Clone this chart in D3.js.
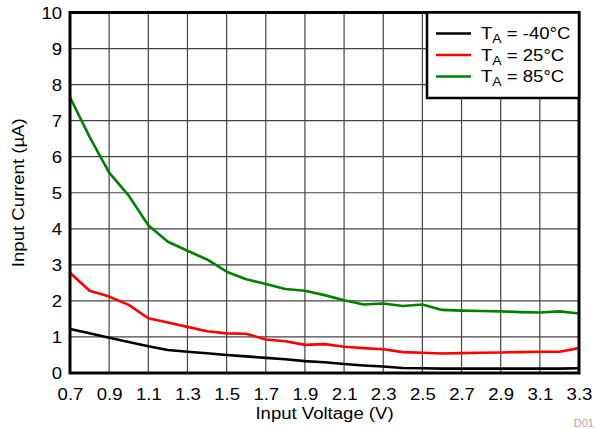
<!DOCTYPE html>
<html>
<head>
<meta charset="utf-8">
<script src="https://cdn.jsdelivr.net/npm/d3@7"></script>
<style>
  html, body { margin: 0; padding: 0; background: #fff; }
  svg { display: block; font-family: "Liberation Sans", Arial, sans-serif; }
</style>
</head>
<body>
<svg id="chart" width="595" height="429"></svg>
<script>
const voltage = [0.7,0.8,0.9,1.0,1.1,1.2,1.3,1.4,1.5,1.6,1.7,1.8,1.9,2.0,2.1,2.2,2.3,2.4,2.5,2.6,2.7,2.8,2.9,3.0,3.1,3.2,3.3];
const currentMinus40 = [1.22,1.10,0.98,0.86,0.74,0.64,0.59,0.55,0.50,0.46,0.42,0.38,0.33,0.30,0.25,0.21,0.18,0.14,0.13,0.12,0.12,0.12,0.12,0.12,0.12,0.12,0.13];
const current25 = [2.78,2.28,2.12,1.89,1.52,1.40,1.28,1.16,1.10,1.09,0.93,0.88,0.78,0.80,0.73,0.69,0.66,0.58,0.56,0.54,0.55,0.56,0.57,0.58,0.59,0.59,0.69];
const current85 = [7.65,6.55,5.56,4.92,4.10,3.64,3.39,3.15,2.81,2.60,2.47,2.33,2.28,2.16,2.02,1.90,1.93,1.86,1.90,1.75,1.73,1.72,1.71,1.69,1.68,1.71,1.65];
const seriesNames = ["-40°C", "25°C", "85°C"];
const seriesColors = ["#000000", "#ff0000", "#008000"];
const xTicks = [0.7,0.9,1.1,1.3,1.5,1.7,1.9,2.1,2.3,2.5,2.7,2.9,3.1,3.3];
const yTicks = [0,1,2,3,4,5,6,7,8,9,10];
const xTitle = "Input Voltage (V)";
const yTitle = "Input Current (µA)";
const noteText = "D01";

const series = [currentMinus40, current25, current85];
const SX = 1.16; // horizontal stretch of the reference's lettering

const svg = d3.select("#chart");
const L = 70, R = 579, T = 12.5, B = 373;
const x = d3.scaleLinear().domain([0.7, 3.3]).range([L, R]);
const y = d3.scaleLinear().domain([0, 10]).range([B, T]);

// grid
const grid = svg.append("g");
grid.selectAll(".vg").data(xTicks.slice(1, -1)).enter().append("line")
  .attr("x1", d => x(d)).attr("x2", d => x(d)).attr("y1", T).attr("y2", B)
  .attr("stroke", "#444").attr("stroke-width", 1.2);
grid.selectAll(".hg").data(yTicks.slice(1, -1)).enter().append("line")
  .attr("x1", L).attr("x2", R).attr("y1", d => y(d)).attr("y2", d => y(d))
  .attr("stroke", "#444").attr("stroke-width", 1.2);

// lines
const line = d3.line().x((d, i) => x(voltage[i])).y(d => y(d));
series.forEach((s, k) => {
  svg.append("path").datum(s).attr("d", line)
    .attr("fill", "none").attr("stroke", seriesColors[k])
    .attr("stroke-width", 2.6).attr("stroke-linejoin", "round");
});

// frame
svg.append("rect").attr("x", L).attr("y", T).attr("width", R - L).attr("height", B - T)
  .attr("fill", "none").attr("stroke", "#000").attr("stroke-width", 3);

// axes
const xAxis = d3.axisBottom(x).tickValues(xTicks).tickSize(0).tickPadding(0).tickFormat(d3.format(".1f"));
const gx = svg.append("g").attr("transform", `translate(0,${B})`).call(xAxis);
gx.select(".domain").remove();
gx.selectAll("text").attr("y", 27).attr("dy", null).attr("font-size", 16)
  .attr("transform", `scale(${SX},1)`)
  .attr("font-family", "Liberation Sans, Arial, sans-serif").attr("fill", "#000");

const yAxis = d3.axisLeft(y).tickValues(yTicks).tickSize(0).tickPadding(0).tickFormat(d3.format("d"));
const gy = svg.append("g").attr("transform", `translate(${L},0)`).call(yAxis);
gy.select(".domain").remove();
gy.selectAll("text").attr("x", -8 / SX).attr("dy", "0.36em").attr("font-size", 16)
  .attr("transform", `scale(${SX},1)`)
  .attr("font-family", "Liberation Sans, Arial, sans-serif").attr("fill", "#000");

// titles
svg.append("text").attr("transform", `translate(${(L + R) / 2},419) scale(${SX},1)`)
  .attr("text-anchor", "middle").attr("font-size", 16).text(xTitle);
svg.append("text").attr("transform", `translate(24,${(T + B) / 2}) rotate(-90) scale(${SX},1)`)
  .attr("text-anchor", "middle").attr("font-size", 16).text(yTitle);

// legend
const lg = svg.append("g");
lg.append("rect").attr("x", 427).attr("y", T).attr("width", R - 427).attr("height", 85.5)
  .attr("fill", "#fff").attr("stroke", "#000").attr("stroke-width", 2.5);
seriesNames.forEach((name, k) => {
  const cy = 33.5 + k * 21.5;
  lg.append("line").attr("x1", 436).attr("x2", 471).attr("y1", cy).attr("y2", cy)
    .attr("stroke", seriesColors[k]).attr("stroke-width", 2.6);
  const t = lg.append("text").attr("transform", `translate(481,${cy + 5.5}) scale(${SX},1)`)
    .attr("font-size", 16);
  t.append("tspan").text("T");
  t.append("tspan").attr("dy", 4).attr("font-size", 12).text("A");
  t.append("tspan").attr("dy", -4).text(" = " + name);
});

// note
svg.append("text").attr("x", 594).attr("y", 427).attr("font-size", 11)
  .attr("text-anchor", "end").attr("fill", "#aaa").text(noteText);
</script>
</body>
</html>
